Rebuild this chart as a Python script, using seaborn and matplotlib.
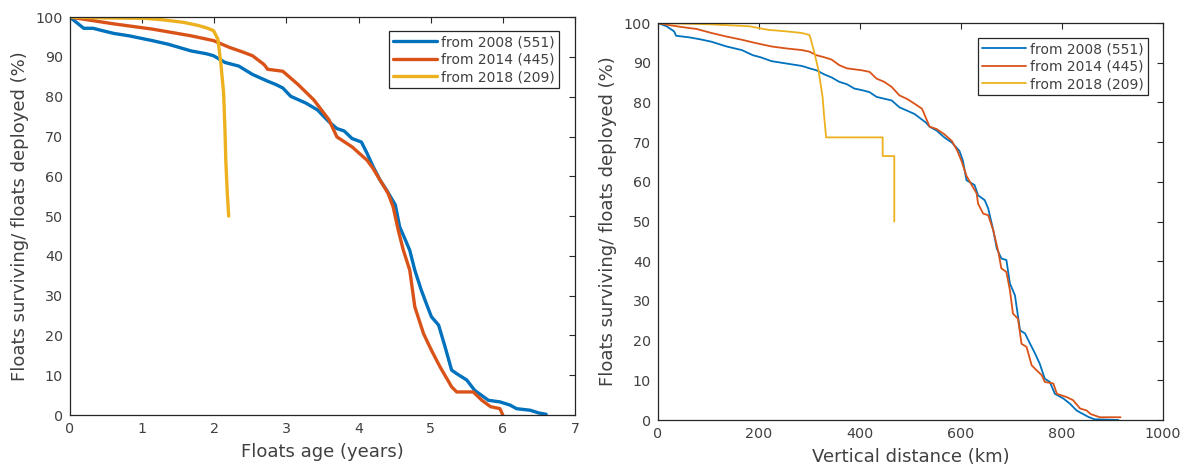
import matplotlib
matplotlib.use("Agg")
import matplotlib.pyplot as plt
import seaborn as sns
import pandas as pd

# Survival vs. float age (years)
age_2008 = [0, 0.19, 0.32, 0.45, 0.61, 0.82, 1.14, 1.36, 1.68, 1.89, 1.99, 2.15, 2.34, 2.53,
            2.74, 2.85, 2.95, 3.06, 3.27, 3.43, 3.59, 3.70, 3.80, 3.91, 4.04, 4.12, 4.20, 4.30,
            4.39, 4.51, 4.57, 4.64, 4.71, 4.78, 4.87, 4.94, 5.01, 5.11, 5.20, 5.29, 5.36, 5.50,
            5.61, 5.80, 5.96, 6.10, 6.19, 6.38, 6.50, 6.60]
surv_age_2008 = [100, 97.2, 97.2, 96.6, 95.9, 95.3, 94.1, 93.2, 91.5, 90.8, 90.3, 88.6, 87.7, 85.6,
                 83.9, 83.1, 82.2, 80.1, 78.4, 76.7, 73.7, 72.0, 71.4, 69.5, 68.6, 65.7, 62.5, 59.0,
                 56.5, 52.8, 47.3, 44.4, 41.4, 36.4, 31.4, 28.0, 24.7, 22.6, 17.1, 11.3, 10.4, 8.8,
                 6.2, 3.7, 3.3, 2.5, 1.6, 1.2, 0.5, 0.2]

age_2014 = [0, 0.29, 0.61, 1.14, 1.68, 1.99, 2.21, 2.40, 2.53, 2.69, 2.74, 2.95, 3.16, 3.38, 3.59,
            3.70, 3.91, 4.12, 4.20, 4.30, 4.41, 4.48, 4.55, 4.62, 4.71, 4.78, 4.90, 5.01, 5.13,
            5.29, 5.36, 5.59, 5.71, 5.83, 5.96, 6.0]
surv_age_2014 = [100, 99.2, 98.3, 97.0, 95.3, 94.1, 92.4, 91.2, 90.3, 88.1, 86.9, 86.4, 83.1, 79.2,
                 74.2, 69.9, 67.4, 64.0, 62.0, 59.0, 55.7, 52.3, 46.5, 41.5, 36.4, 27.2, 20.5,
                 16.3, 12.1, 7.1, 5.8, 5.8, 3.7, 2.1, 1.6, 0]

age_2018 = [0, 0.5, 1.04, 1.30, 1.57, 1.78, 1.91, 1.99, 2.05, 2.09, 2.13, 2.15, 2.16, 2.18, 2.20]
surv_age_2018 = [100, 99.8, 99.7, 99.3, 98.7, 97.9, 97.2, 96.6, 94.5, 88.6, 80.9, 70.8, 64.0,
                 56.0, 50.0]

# Survival vs. cumulative vertical distance (km)
dist_2008 = [0, 17, 32, 36, 62, 84, 106, 136, 166, 188, 203, 225, 255, 285, 300, 314, 329, 344,
             359, 374, 389, 404, 419, 433, 463, 478, 508, 530, 538, 552, 567, 582, 597, 604, 611,
             627, 634, 647, 654, 664, 671, 680, 690, 697, 707, 717, 727, 737, 747, 756, 766, 776,
             786, 803, 816, 829, 842, 852, 864, 912]
surv_dist_2008 = [100, 99.2, 97.9, 96.8, 96.4, 95.9, 95.3, 94.1, 93.2, 91.9, 91.4, 90.4, 89.8,
                  89.2, 88.6, 88.1, 87.1, 86.3, 85.2, 84.6, 83.5, 83.1, 82.6, 81.4, 80.5, 78.8,
                  77.1, 75.0, 73.9, 72.9, 71.2, 69.9, 67.8, 65.3, 60.4, 59.2, 56.6, 55.4, 53.3,
                  47.8, 43.2, 40.7, 40.3, 34.4, 31.4, 22.6, 21.8, 19.2, 16.7, 14.2, 10.4, 9.6,
                  6.6, 5.4, 4.1, 2.4, 1.5, 0.8, 0.2, 0.0]

dist_2014 = [0, 17, 47, 77, 106, 136, 166, 196, 225, 255, 285, 300, 314, 329, 344, 359, 374, 404,
             419, 433, 448, 463, 478, 493, 508, 523, 530, 538, 552, 567, 582, 593, 601, 611, 620,
             631, 634, 644, 654, 664, 674, 680, 690, 697, 703, 713, 720, 730, 740, 750, 760, 766,
             783, 790, 809, 822, 836, 849, 857, 875, 916]
surv_dist_2014 = [100, 99.6, 99.0, 98.5, 97.5, 96.6, 95.8, 94.9, 94.1, 93.6, 93.2, 92.8, 91.9,
                  91.4, 90.8, 89.4, 88.6, 88.1, 87.7, 86.0, 85.2, 83.9, 81.8, 80.9, 79.7, 78.4,
                  76.3, 73.9, 73.3, 72.0, 70.3, 67.8, 65.3, 61.5, 59.5, 57.1, 54.5, 52.0, 51.6,
                  47.8, 42.4, 38.2, 37.3, 32.7, 26.8, 25.5, 19.2, 18.4, 13.8, 12.5, 11.3, 9.6,
                  9.2, 6.6, 5.8, 5.0, 2.9, 2.4, 1.5, 0.7, 0.7]

dist_2018 = [0, 100, 181, 218, 255, 285, 300, 303, 311, 318, 326, 329, 333, 445, 445, 468, 468]
surv_dist_2018 = [100, 99.7, 99.2, 98.3, 97.9, 97.5, 97.0, 95.8, 91.9, 88.1, 81.4, 76.7, 71.2,
                  71.2, 66.5, 66.5, 50.0]

series_labels = ["from 2008 (551)", "from 2014 (445)", "from 2018 (209)"]
series_colors = ["#0072BD", "#D95319", "#EDB120"]

sns.set_style("white")
plt.rcParams["font.family"] = ["DejaVu Sans"]

TXT = "#404040"

fig = plt.figure(figsize=(11.84, 4.67), dpi=100)
ax1 = fig.add_axes([0.0591, 0.1113, 0.4265, 0.852])
ax2 = fig.add_axes([0.5557, 0.1006, 0.4265, 0.850])


def draw_curves(pairs, ax, lw):
    for (x, y), lab, col in zip(pairs, series_labels, series_colors):
        df = pd.DataFrame({"x": x, "y": y})
        sns.lineplot(data=df, x="x", y="y", ax=ax, color=col, linewidth=lw, label=lab,
                     estimator=None, sort=False)


draw_curves([(age_2008, surv_age_2008), (age_2014, surv_age_2014), (age_2018, surv_age_2018)],
            ax1, 2.4)
draw_curves([(dist_2008, surv_dist_2008), (dist_2014, surv_dist_2014),
             (dist_2018, surv_dist_2018)], ax2, 1.3)

ax1.set_xlim(0, 7)
ax1.set_xticks(range(0, 8))
ax1.set_xlabel("Floats age (years)", fontsize=13, color=TXT, labelpad=5)
ax2.set_xlim(0, 1000)
ax2.set_xticks(range(0, 1001, 200))
ax2.set_xlabel("Vertical distance (km)", fontsize=13, color=TXT, labelpad=5)

legend_anchor = {ax1: (0.968, 0.965), ax2: (0.970, 0.962)}

for ax in (ax1, ax2):
    ax.set_ylim(0, 100)
    ax.set_yticks(range(0, 101, 10))
    ax.set_ylabel("Floats surviving/ floats deployed (%)", fontsize=13, color=TXT, labelpad=5)
    ax.tick_params(direction="in", top=True, right=True, length=4, width=0.8,
                   colors="#262626", labelcolor=TXT, labelsize=10.3, pad=5)
    for s in ax.spines.values():
        s.set_color("#262626")
        s.set_linewidth(0.9)
    leg = ax.legend(loc="upper right", bbox_to_anchor=legend_anchor[ax], borderaxespad=0,
                    fontsize=10, handlelength=3.2, handletextpad=0.25, borderpad=0.3,
                    labelspacing=0.25, fancybox=False, framealpha=1, edgecolor="#262626")
    leg.get_frame().set_linewidth(0.9)
    for t in leg.get_texts():
        t.set_color(TXT)

fig.savefig("out.png", dpi=100, facecolor="white")
